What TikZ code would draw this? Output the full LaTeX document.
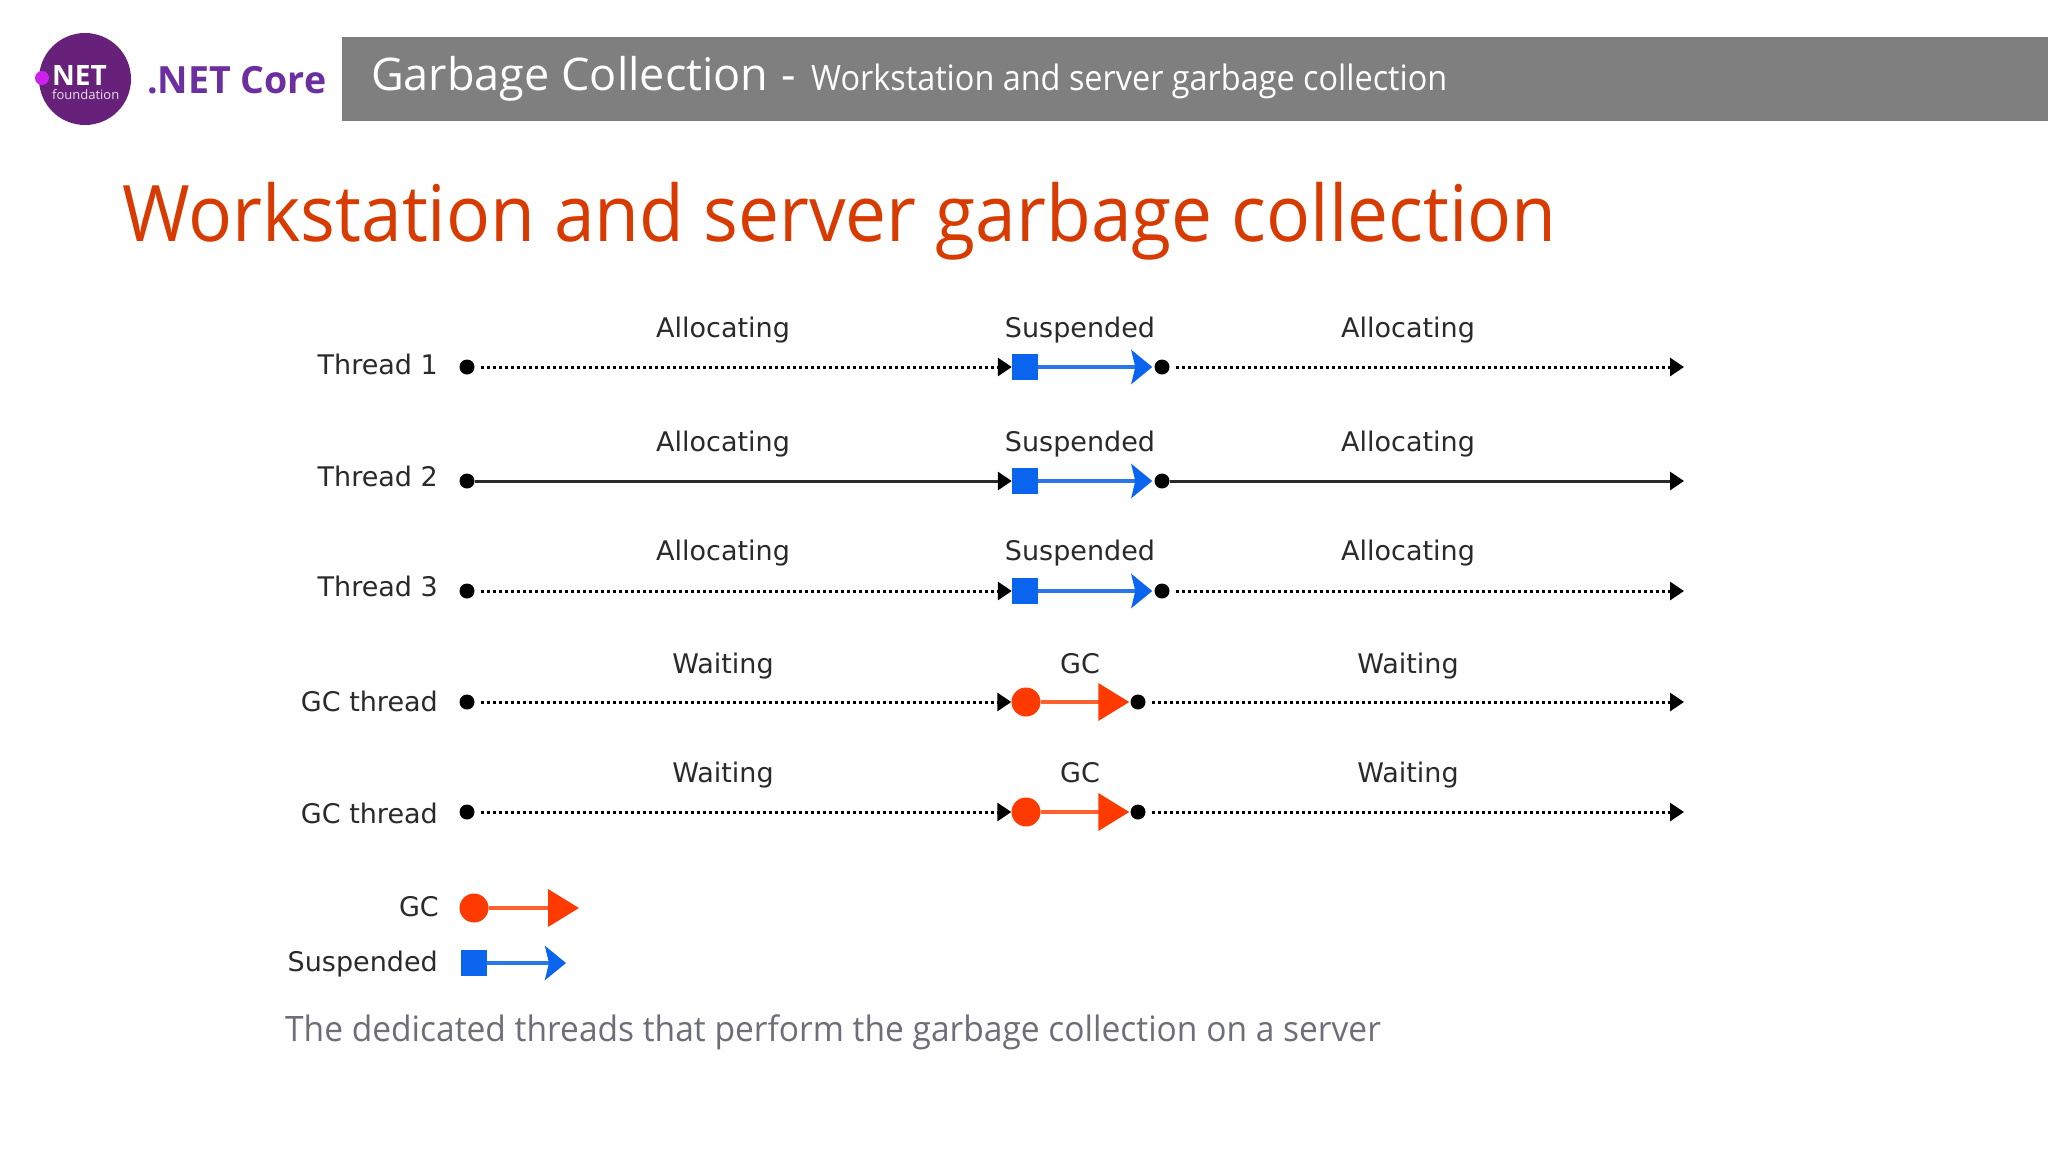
\documentclass[tikz,border=0pt]{standalone}
\usepackage{fontspec}
\setmainfont{Open Sans}
\newfontfamily\lblfont{DejaVu Sans}
\newfontfamily\titlefont[FakeStretch=0.937]{Open Sans}
\newfontfamily\subfont[FakeStretch=0.926]{Open Sans}
\newfontfamily\capfont[FakeStretch=0.958]{Open Sans}
\usetikzlibrary{arrows.meta}
\definecolor{hdr}{HTML}{7F7F7F}
\definecolor{ttl}{HTML}{D83B01}
\definecolor{dnet}{HTML}{68217A}
\definecolor{dcore}{HTML}{6B2FA0}
\definecolor{mag}{HTML}{CC22EE}
\definecolor{gcred}{HTML}{FF3A00}
\definecolor{gcline}{HTML}{FF6030}
\definecolor{susp}{HTML}{0A64EE}
\definecolor{suspl}{HTML}{2A78E8}
\definecolor{cap}{HTML}{6E6E78}
\definecolor{ink}{HTML}{2A2A2A}
\tikzset{
  x=1pt,y=-1pt,
  lbl/.style={font=\lblfont\fontsize{27}{27}\selectfont,text=ink,inner sep=0pt},
  dotn/.style={circle,fill=black,minimum size=15pt,inner sep=0pt},
  sqn/.style={rectangle,fill=susp,minimum size=26pt,inner sep=0pt},
  gcn/.style={circle,fill=gcred,minimum size=29pt,inner sep=0pt},
  dotline/.style={-{Triangle[length=14pt,width=18pt,color=black,fill=black]},draw=black,line width=3pt,dash pattern=on 3pt off 3pt,shorten <=6pt},
  solidline/.style={-{Triangle[length=14pt,width=18pt,color=black,fill=black]},draw=ink,line width=3pt},
  bluearrow/.style={-{Stealth[length=21pt,width=34pt,inset=4pt,color=susp,fill=susp]},draw=suspl,line width=4pt},
  redarrow/.style={-{Triangle[length=31pt,width=37pt,color=gcred,fill=gcred]},draw=gcline,line width=4pt},
}
\newcommand{\threadrow}[6]{% id, y, caption baseline, name baseline, name, line style
  \node[dotn] (s#1) at (467,#2) {};
  \node[sqn] (b#1) at (1025,#2) {};
  \node[dotn] (e#1) at (1162,#2) {};
  \coordinate (f#1) at (1684,#2);
  \draw[#6] (s#1) -- (b#1.west);
  \draw[bluearrow,shorten >=2pt] (b#1) -- (e#1.west);
  \draw[#6] (e#1) -- (f#1);
  \node[lbl,anchor=base] (la#1) at (723,#3) {Allocating};
  \node[lbl,anchor=base] (lb#1) at (1080,#3) {Suspended};
  \node[lbl,anchor=base] (lc#1) at (1408,#3) {Allocating};
  \node[lbl,anchor=base east] (ln#1) at (438,#4) {#5};
}
\newcommand{\gcrow}[5]{% id, y, caption baseline, name baseline, name
  \node[dotn] (s#1) at (467,#2) {};
  \node[gcn] (b#1) at (1026,#2) {};
  \node[dotn] (e#1) at (1138,#2) {};
  \coordinate (f#1) at (1684,#2);
  \draw[dotline] (s#1) -- (b#1.west);
  \draw[redarrow,shorten >=1pt] (b#1) -- (e#1.west);
  \draw[dotline] (e#1) -- (f#1);
  \node[lbl,anchor=base] (la#1) at (723,#3) {Waiting};
  \node[lbl,anchor=base] (lb#1) at (1080,#3) {GC};
  \node[lbl,anchor=base] (lc#1) at (1408,#3) {Waiting};
  \node[lbl,anchor=base east] (ln#1) at (438,#4) {#5};
}
\begin{document}
\begin{tikzpicture}
\useasboundingbox (0,0) rectangle (2048,1152);
\fill[white] (0,0) rectangle (2048,1152);
% header
\node[fill=hdr,minimum width=1706pt,minimum height=84pt,anchor=north west,inner sep=0pt] (hdrbar) at (342,37) {};
\node[anchor=base west,inner sep=0pt,text=white,font=\fontsize{45}{45}\selectfont] (hdrtitle) at (371,90) {Garbage Collection\hspace{13pt}-};
\node[anchor=base west,inner sep=0pt,text=white,font=\subfont\fontsize{35}{35}\selectfont] (hdrsub) at (811,90) {Workstation and server garbage collection};
% logo
\node[circle,fill=dnet,minimum size=92pt,inner sep=0pt] (logo) at (85,79) {};
\node[circle,fill=mag,minimum size=14pt,inner sep=0pt] (logodot) at (42,78) {};
\node[anchor=base west,inner sep=0pt,text=white,font=\bfseries\fontsize{28}{28}\selectfont] (logonet) at (52,85) {NET};
\node[anchor=base west,inner sep=0pt,text=white!85!dnet,font=\fontsize{13}{13}\selectfont] (logofound) at (52,99) {foundation};
\node[anchor=base west,inner sep=0pt,text=dcore,font=\bfseries\fontsize{37.5}{37.5}\selectfont] (netcore) at (147,93) {.NET Core};
% title
\node[anchor=base west,inner sep=0pt,text=ttl,font=\titlefont\fontsize{78}{78}\selectfont] (maintitle) at (122,241) {Workstation and server garbage collection};
% rows
\threadrow{1}{367}{337}{374}{Thread 1}{dotline}
\threadrow{2}{481}{451}{486}{Thread 2}{solidline}
\threadrow{3}{591}{560}{596}{Thread 3}{dotline}
\gcrow{4}{702}{673}{711}{GC thread}
\gcrow{5}{812}{782}{823}{GC thread}
% legend
\node[lbl,anchor=base east] (lg1) at (439,916) {GC};
\node[gcn] (lgc) at (474,908) {};
\coordinate (lgce) at (579,908);
\draw[redarrow] (lgc) -- (lgce);
\node[lbl,anchor=base east] (lg2) at (438,971) {Suspended};
\node[sqn] (lgs) at (474,963) {};
\coordinate (lgse) at (566,963);
\draw[bluearrow] (lgs) -- (lgse);
% caption
\node[anchor=base west,inner sep=0pt,text=cap,font=\capfont\fontsize{35}{35}\selectfont] (caption) at (285,1041) {The dedicated threads that perform the garbage collection on a server};
\end{tikzpicture}
\end{document}
